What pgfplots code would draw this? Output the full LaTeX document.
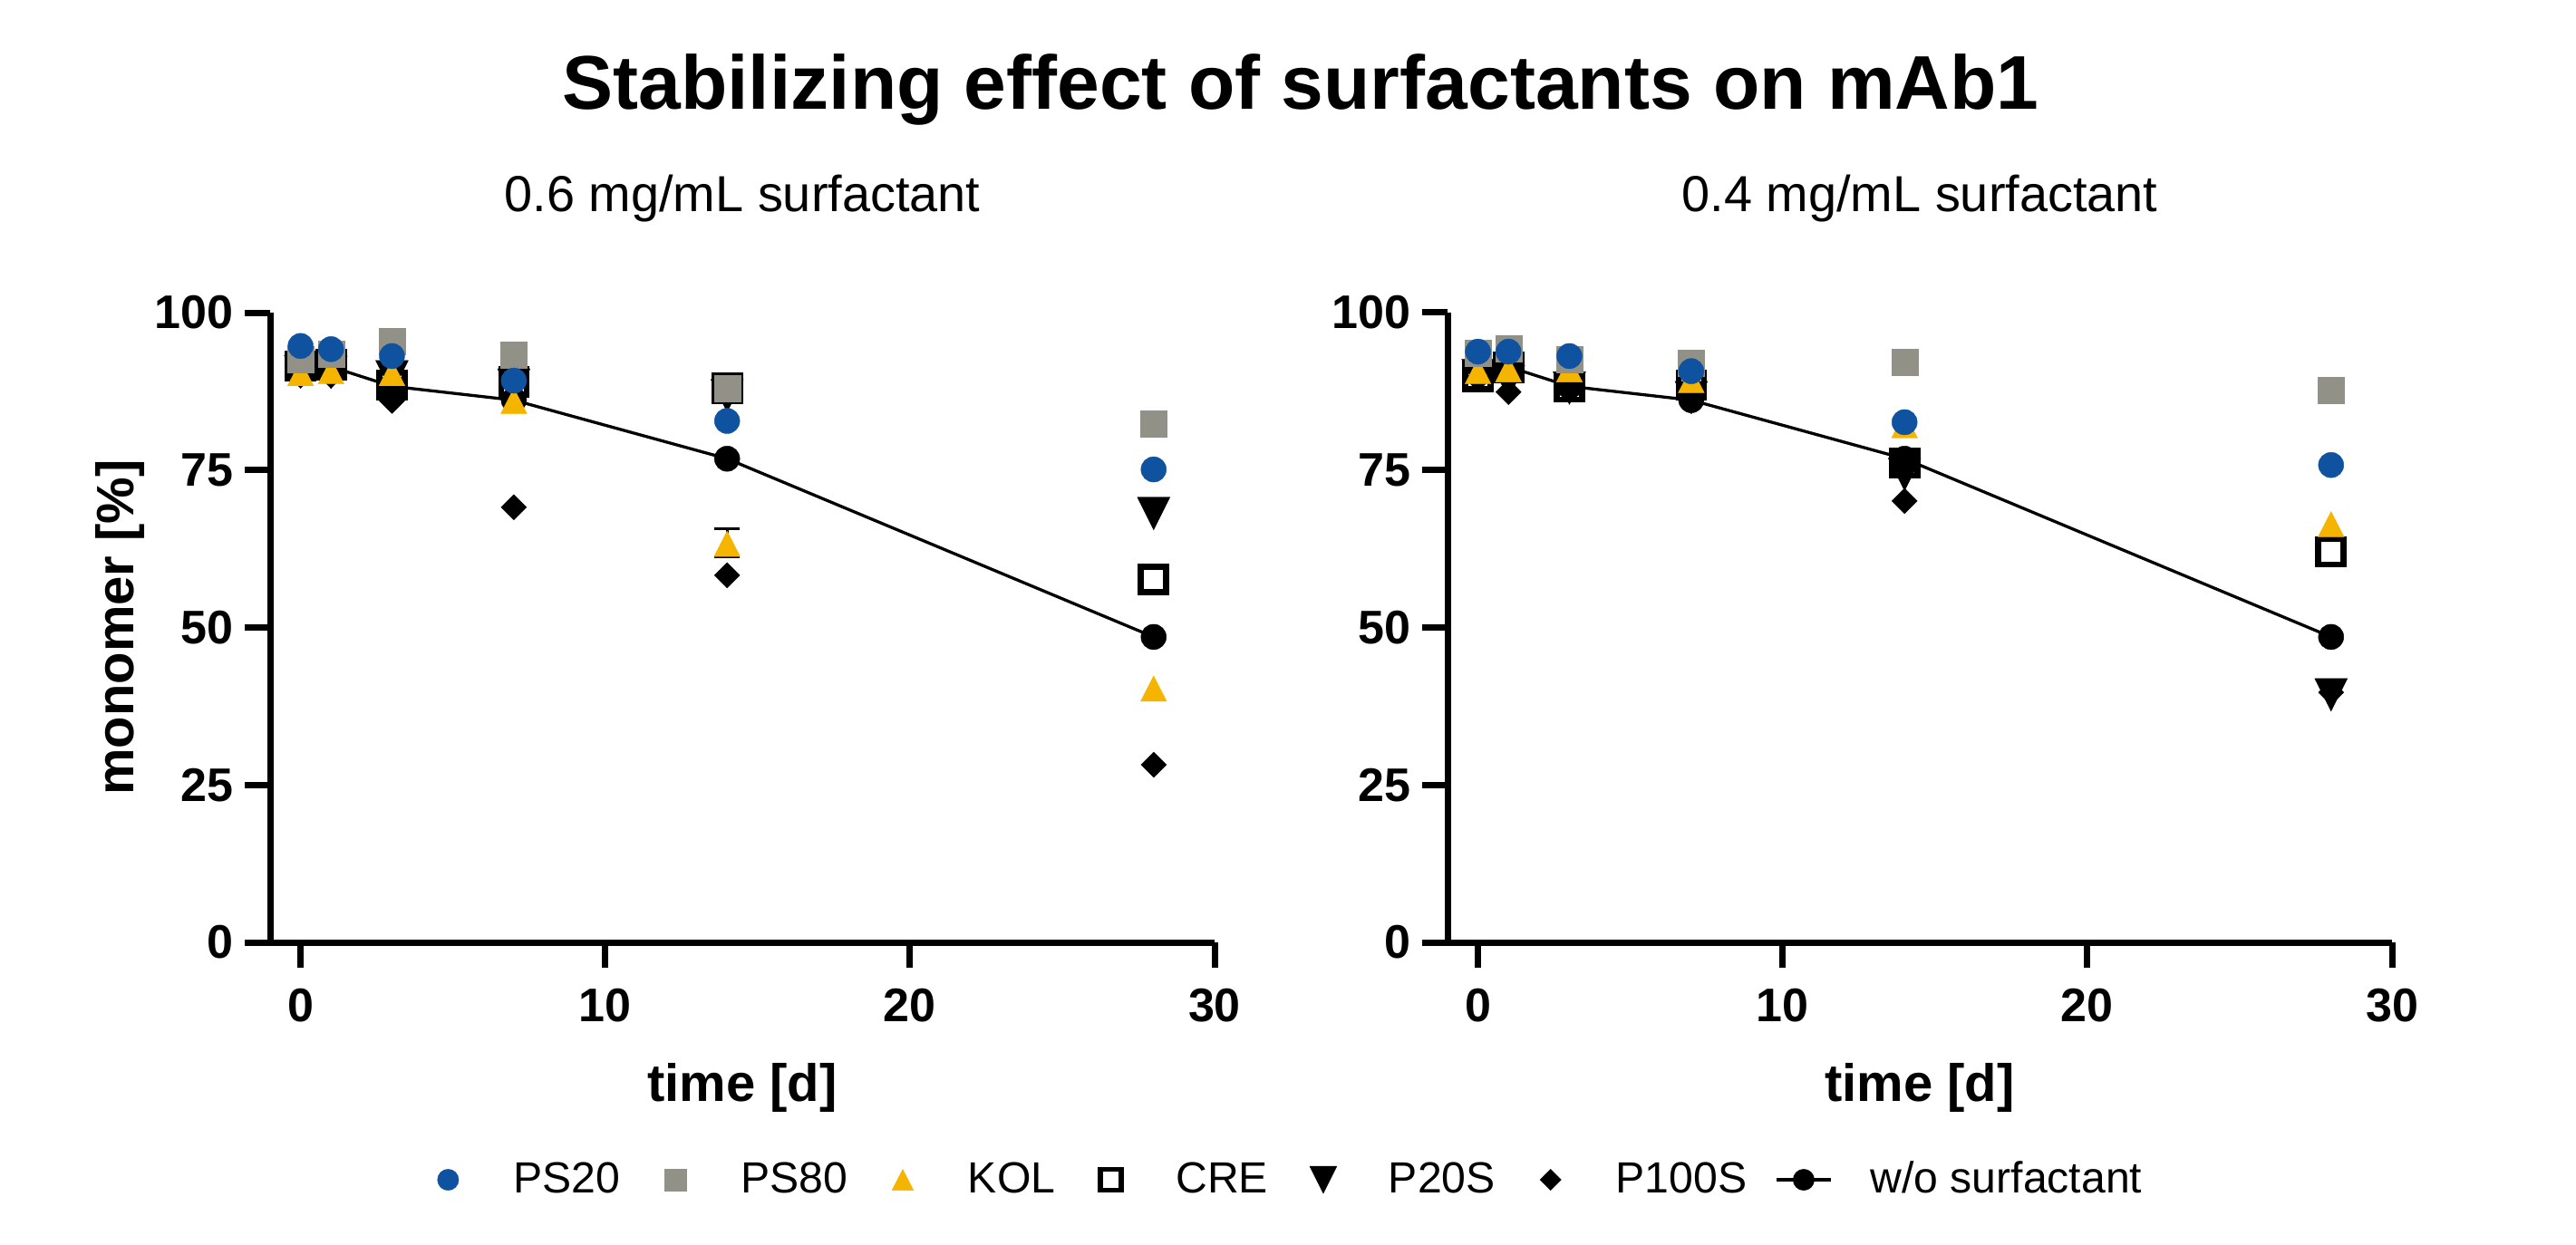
\documentclass[border=0pt]{standalone}
\usepackage{fontspec}
\setmainfont{Liberation Sans}
\usepackage{pgfplots}
\usepackage{pgfplotstable}
\pgfplotsset{compat=1.18}

\definecolor{cPS20}{HTML}{0F52A0}
\definecolor{cPS80}{HTML}{919187}
\definecolor{cKOL}{HTML}{F5B400}

% monomer [%] per time point, 0.6 mg/mL
\pgfplotstableread{
t  PS20 PS80 KOL  CRE  P20S P100S wo
0  94.7 92.5 90.4 91.5 90.6 90.0  92.5
1  94.2 93.5 90.7 91.7 90.5 90.0  91.4
3  93.1 95.4 90.4 88.5 89.8 86.0  88.3
7  89.2 93.3 86.0 89.0 88.5 69.1  86.1
14 82.8 88.0 63.3 88.0 86.8 58.3  76.8
28 75.1 82.3 40.3 57.6 68.1 28.2  48.5
}\tabA

% 0.4 mg/mL
\pgfplotstableread{
t  PS20 PS80 KOL  CRE  P20S P100S wo
0  93.8 93.6 90.7 89.9 90.0 89.5  92.0
1  93.8 94.3 91.0 91.3 89.0 87.4  91.4
3  93.1 92.5 91.0 88.2 88.0 88.0  88.3
7  90.7 92.0 89.3 88.5 86.5 86.0  86.1
14 82.6 92.1 82.1 76.1 74.3 70.1  76.8
28 75.8 87.7 66.4 62.0 39.3 39.7  48.5
}\tabB

\pgfplotsset{
  panel/.style={
    scale only axis, width=104.2mm, height=69.5mm,
    xmin=-1, xmax=30, ymin=0, ymax=100,
    axis x line=bottom, axis y line=left,
    axis line style={-, line width=0.7mm, black},
    tick align=outside, major tick length=2.8mm,
    tick style={line width=0.7mm, black},
    xtick={0,10,20,30}, ytick={0,25,50,75,100},
    minor tick num=0,
    /pgf/number format/assume math mode=true,
    ticklabel style={font=\fontsize{14.8}{17}\selectfont\bfseries, inner sep=0pt},
    xticklabel shift=2.2mm, yticklabel shift=1.2mm,
    title style={font=\fontsize{15.9}{18}\selectfont, at={(0.5,1.1295)}, anchor=base},
    xlabel={time [d]},
    xlabel style={font=\fontsize{16.5}{19}\selectfont\bfseries, at={(0.5,-0.252)}, anchor=base},
    ylabel style={font=\fontsize{16.5}{19}\selectfont\bfseries, at={(-0.1449,0.5)}, anchor=base},
    clip=false,
  },
  sPS20/.style={only marks, mark=*, mark size=1.4mm,
    mark options={draw=cPS20, fill=cPS20, line width=0.1pt}},
  sPS80/.style={only marks, mark=square*, mark size=1.45mm,
    mark options={draw=cPS80, fill=cPS80, line width=0.1pt}},
  sKOL/.style={only marks, mark=triangle*, mark size=1.87mm,
    mark options={draw=cKOL, fill=cKOL, line width=0.1pt, yshift=-0.47mm, xscale=0.885}},
  sCRE/.style={only marks, mark=square, mark size=1.4mm,
    mark options={draw=black, line width=0.67mm, fill=none, line join=miter}},
  sP20S/.style={only marks, mark=triangle*, mark size=2.4mm,
    mark options={draw=black, fill=black, line width=0.1pt, yshift=0.6mm, rotate=180, xscale=0.866}},
  sP100S/.style={only marks, mark=square*, mark size=0.99mm,
    mark options={draw=black, fill=black, line width=0.1pt, rotate=45}},
  swo/.style={black, line width=0.33mm, mark=*, mark size=1.4mm,
    mark options={draw=black, fill=black, line width=0.1pt}},
  markonly/.style={only marks, legend image code/.code={
      \path[draw=none] (0mm,0mm) -- (6mm,0mm);
      \draw[only marks] plot coordinates {(3mm,0mm)};
    }},
}

\begin{document}
\begin{tikzpicture}
\useasboundingbox (0,0) rectangle (284.2mm,137.3mm);

\node[anchor=base, font=\fontsize{23.9}{28}\selectfont\bfseries] at (143.5mm,125.2mm)
  {Stabilizing effect of surfactants on mAb1};

\begin{axis}[panel, at={(29.8mm,33.3mm)}, anchor=south west,
    title={0.6 mg/mL surfactant}, ylabel={monomer [\%]},
    legend columns=7,
    legend style={at={(0.159,-0.377)}, anchor=west, draw=none, fill=none, inner sep=0pt,
      font=\fontsize{13.7}{16}\selectfont, nodes={inner sep=0pt},
      /tikz/every odd column/.append style={column sep=4.2mm},
      /tikz/every even column/.append style={column sep=3.1mm}},
  ]
  \addlegendimage{markonly, mark=*, mark size=1.17mm, mark options={draw=cPS20, fill=cPS20, line width=0.1pt}}
  \addlegendentry{PS20}
  \addlegendimage{markonly, mark=square*, mark size=1.2mm, mark options={draw=cPS80, fill=cPS80, line width=0.1pt}}
  \addlegendentry{PS80}
  \addlegendimage{markonly, mark=triangle*, mark size=1.55mm, mark options={draw=cKOL, fill=cKOL, line width=0.1pt, yshift=-0.39mm, xscale=0.885}}
  \addlegendentry{KOL}
  \addlegendimage{markonly, mark=square, mark size=1.15mm, mark options={draw=black, line width=0.55mm, fill=none, line join=miter}}
  \addlegendentry{CRE}
  \addlegendimage{markonly, mark=triangle*, mark size=2.0mm, mark options={draw=black, fill=black, line width=0.1pt, yshift=0.5mm, rotate=180, xscale=0.866}}
  \addlegendentry{P20S}
  \addlegendimage{markonly, mark=square*, mark size=0.82mm, mark options={draw=black, fill=black, line width=0.1pt, rotate=45}}
  \addlegendentry{P100S}
  \addlegendimage{black, line width=0.33mm, mark=*, mark size=1.17mm, mark options={draw=black, fill=black, line width=0.1pt},
    legend image code/.code={
      \draw[mark repeat=2, mark phase=2] plot coordinates {(0mm,0mm) (3mm,0mm) (6mm,0mm)};
    }}
  \addlegendentry{w/o surfactant}

  \addplot[swo, forget plot] table[x=t, y=wo] {\tabA};
  \addplot[sP100S, forget plot] table[x=t, y=P100S] {\tabA};
  \addplot[sP20S, forget plot] table[x=t, y=P20S] {\tabA};
  \addplot[sCRE, forget plot] table[x=t, y=CRE] {\tabA};
  % KOL at 14 d: SD bar
  \addplot[draw=none, forget plot, error bars/.cd, y dir=both, y explicit,
    error mark=|, error bar style={line width=0.3mm, black},
    error mark options={line width=0.35mm, mark size=1.4mm, black}]
    coordinates {(14,63.45) +- (0,2.25)};
  \addplot[sKOL, forget plot] table[x=t, y=KOL] {\tabA};
  \addplot[sPS80, forget plot] table[x=t, y=PS80] {\tabA};
  \addplot[sPS20, forget plot] table[x=t, y=PS20] {\tabA};
\end{axis}

\begin{axis}[panel, at={(159.7mm,33.3mm)}, anchor=south west,
    title={0.4 mg/mL surfactant}]
  \addplot[swo] table[x=t, y=wo] {\tabB};
  \addplot[sP100S] table[x=t, y=P100S] {\tabB};
  \addplot[sP20S] table[x=t, y=P20S] {\tabB};
  \addplot[sCRE] table[x=t, y=CRE] {\tabB};
  \addplot[sKOL] table[x=t, y=KOL] {\tabB};
  \addplot[sPS80] table[x=t, y=PS80] {\tabB};
  \addplot[sPS20] table[x=t, y=PS20] {\tabB};
\end{axis}
\end{tikzpicture}
\end{document}
